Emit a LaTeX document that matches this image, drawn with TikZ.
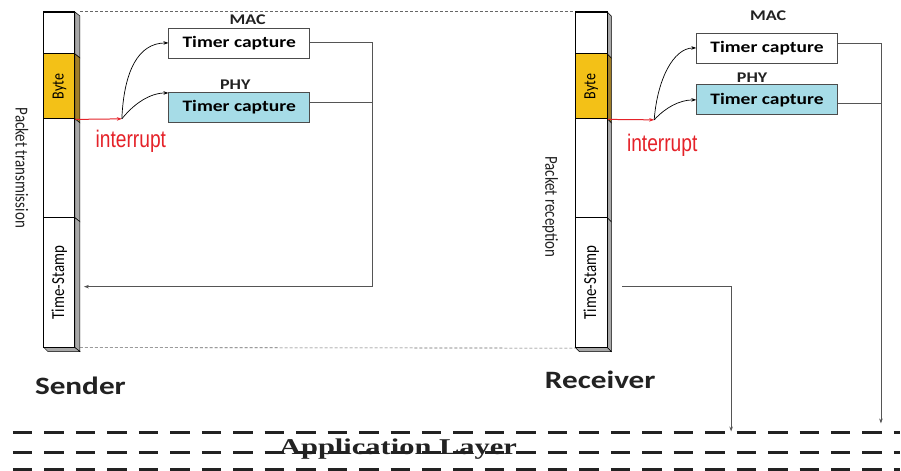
\documentclass[tikz,border=0pt]{standalone}
\usepackage{fontspec}
\setmainfont{Carlito}
\newfontfamily\narrowfont{Liberation Sans}
\newfontfamily\layerfont{Liberation Serif}
\usetikzlibrary{arrows.meta}
\definecolor{bytefill}{HTML}{F3C117}
\definecolor{byteside}{HTML}{A07E28}
\definecolor{phyfill}{HTML}{A6DCE7}
\definecolor{sideface}{HTML}{A8A8A8}
\definecolor{irqred}{HTML}{E52229}
\definecolor{wire}{HTML}{555555}
\definecolor{ink}{HTML}{222222}
\newcommand{\wtext}[1]{\scalebox{1.22}[1]{#1}}
\newcommand{\ttext}[1]{\scalebox{1}[1.22]{#1}}

\begin{document}
\begin{tikzpicture}[x=1pt,y=-1pt,
  seg/.style={draw=black,line width=1.1pt,fill=white,rotate=90,inner sep=0pt,minimum height=31pt,font=\fontsize{15}{16}\selectfont},
  timerbox/.style={draw=black!70,line width=0.8pt,minimum width=141pt,minimum height=30pt,inner sep=0pt,font=\fontsize{16}{18}\selectfont\bfseries},
  layerlbl/.style={font=\fontsize{14.8}{16}\selectfont\bfseries,text=ink},
  side/.style={fill=sideface,draw=black,line width=0.5pt},
  link/.style={draw=wire,line width=0.9pt},
  tick/.style={-{Stealth[length=5pt,width=3.5pt]},line width=0.7pt},
  irq/.style={-{Stealth[length=5pt,width=3.5pt]},irqred,line width=1pt},
  border/.style={dash pattern=on 3pt off 2pt,black!60,line width=0.6pt},
  layerline/.style={dash pattern=on 19.5pt off 12pt,line width=2.2pt,ink}]
  \fill[white] (0,0) rectangle (901,471);

  % ===== sender packet =====
  \fill[side] (75,12) -- (80,16) -- (80,58) -- (75,54) -- cycle;
  \fill[fill=byteside,draw=black,line width=0.5pt] (75,54) -- (80,58) -- (80,123) -- (75,119) -- cycle;
  \fill[side] (75,119) -- (80,123) -- (80,222) -- (75,218) -- cycle;
  \fill[side] (75,218) -- (80,222) -- (80,352) -- (75,348) -- cycle;
  \fill[side] (44,348) -- (48,352) -- (80,352) -- (75,348) -- cycle;
  \node[seg] (stop) at (59.5,33) [minimum width=42pt] {};
  \node[seg,fill=bytefill,font=\fontsize{14}{15}\selectfont] (sbyte) at (59.5,86.5) [minimum width=65pt] {\ttext{Byte}};
  \node[seg] (smid) at (59.5,168.5) [minimum width=99pt] {};
  \node[seg] (sts) at (59.5,283) [minimum width=130pt] {\ttext{Time-Stamp}};
  \node[rotate=-90,font=\fontsize{15}{16}\selectfont,text=ink] (stx) at (22,168) {\ttext{Packet transmission}};

  % ===== receiver packet =====
  \fill[side] (608,12) -- (612,16) -- (612,58) -- (608,54) -- cycle;
  \fill[fill=byteside,draw=black,line width=0.5pt] (608,54) -- (612,58) -- (612,123) -- (608,119) -- cycle;
  \fill[side] (608,119) -- (612,123) -- (612,222) -- (608,218) -- cycle;
  \fill[side] (608,218) -- (612,222) -- (612,352) -- (608,348) -- cycle;
  \fill[side] (576,348) -- (580,352) -- (612,352) -- (608,348) -- cycle;
  \node[seg,minimum height=32pt] (rtop) at (592,33) [minimum width=42pt] {};
  \node[seg,minimum height=32pt,fill=bytefill,font=\fontsize{14}{15}\selectfont] (rbyte) at (592,86.5) [minimum width=65pt] {\ttext{Byte}};
  \node[seg,minimum height=32pt] (rmid) at (592,168.5) [minimum width=99pt] {};
  \node[seg,minimum height=32pt] (rts) at (592,283) [minimum width=130pt] {\ttext{Time-Stamp}};
  \node[rotate=-90,font=\fontsize{15}{16}\selectfont,text=ink] (rrx) at (551,207) {\ttext{Packet reception}};

  % dashed frame between the two packets
  \draw[border] (stop.south east) ++(5pt,0) -- (rtop.north east);
  \draw[border] (80,348) -- (rts.north west);

  % ===== sender timers =====
  \node[layerlbl] (smaclbl) at (248,19.5) {\wtext{MAC}};
  \node[timerbox] (smac) at (239.5,43) {\wtext{Timer capture}};
  \node[layerlbl] (sphylbl) at (235.5,84.5) {\wtext{PHY}};
  \node[timerbox,fill=phyfill] (sphy) at (239.5,107.5) {\wtext{Timer capture}};
  \coordinate (sirq) at (122,119);
  \draw[irq] (sbyte.south west) -- (sirq);
  \node[font=\narrowfont\fontsize{24}{26}\selectfont,text=irqred] (sint) at (131,141.5) {\scalebox{0.8}[1]{interrupt}};
  \draw[tick] (sirq) .. controls (124,72) and (138,43) .. (smac.west);
  \draw[tick] (sirq) .. controls (134,104) and (150,93) .. ([yshift=-1pt]sphy.north west);
  % timer values back into the time-stamp
  \coordinate (sret) at (373,287);
  \coordinate (sin) at (84,287);
  \draw[link] (smac.east) -| (sret);
  \draw[link] ([yshift=4.5pt]sphy.east) -- ([yshift=4.5pt]sphy.east -| sret);
  \draw[link,tick] (sret) -- (sin);

  % ===== receiver timers =====
  \node[layerlbl] (rmaclbl) at (769,15.5) {\wtext{MAC}};
  \node[timerbox] (rmac) at (768,48) {\wtext{Timer capture}};
  \node[layerlbl] (rphylbl) at (753,77.5) {\wtext{PHY}};
  \node[timerbox,fill=phyfill] (rphy) at (768,100) {\wtext{Timer capture}};
  \coordinate (rirq) at (655,120);
  \draw[irq] (rbyte.south west) -- (rirq);
  \node[font=\narrowfont\fontsize{24}{26}\selectfont,text=irqred] (rint) at (663,145) {\scalebox{0.8}[1]{interrupt}};
  \draw[tick] (rirq) .. controls (658,80) and (674,48) .. (rmac.west);
  \draw[tick] (rirq) .. controls (666,108) and (680,100) .. (rphy.west);
  % timer values and time-stamp down to the application
  \coordinate (rapp1) at (732,432);
  \coordinate (rapp2) at (882,424);
  \coordinate (rtsout) at (623,287);
  \draw[link,tick] ([yshift=5pt]rmac.east) -| (rapp2);
  \draw[link] ([yshift=-4pt]rphy.east) -- ([yshift=-4pt]rphy.east -| rapp2);
  \draw[link,tick] (rtsout) -| (rapp1);

  \node[font=\fontsize{25}{27}\selectfont\bfseries,text=ink,anchor=base] (sname) at (80.5,395) {\scalebox{1.25}[1]{Sender}};
  \node[font=\fontsize{25}{27}\selectfont\bfseries,text=ink,anchor=base] (rname) at (601,389) {\scalebox{1.25}[1]{Receiver}};

  % ===== application layer =====
  \draw[layerline] (13,433) -- (901,433);
  \draw[layerline] (13,453) -- (901,453);
  \draw[layerline] (13,470) -- (901,470);
  \node[font=\layerfont\bfseries\fontsize{22.6}{24}\selectfont,text=ink,anchor=base] (app) at (398.5,455) {\scalebox{1.35}[1]{Application Layer}};
\end{tikzpicture}
\end{document}
